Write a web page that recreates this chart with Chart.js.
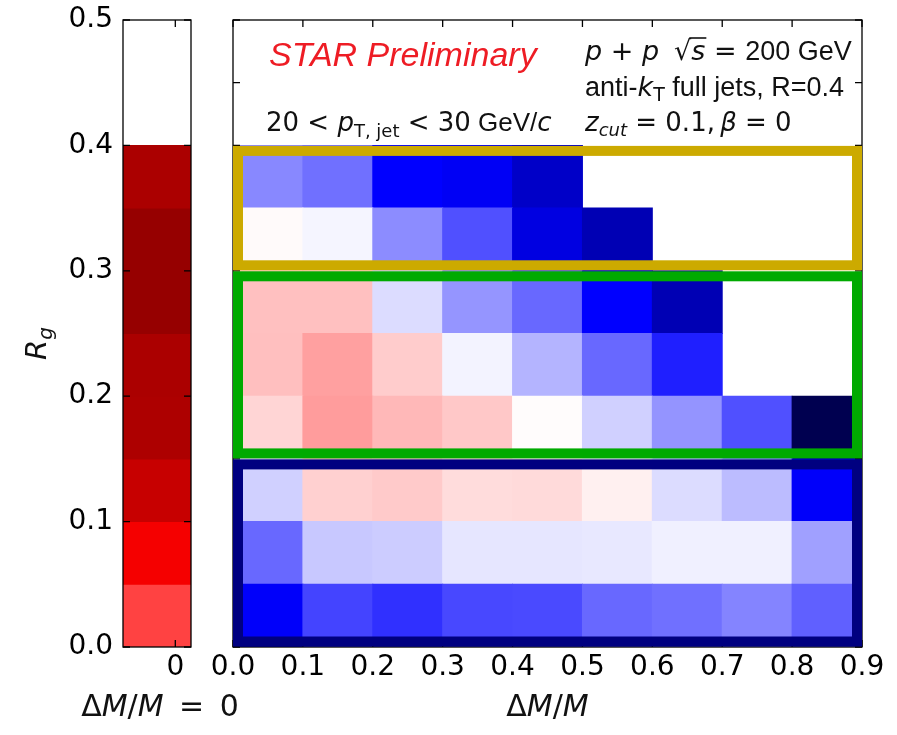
<!DOCTYPE html>
<html><head><meta charset="utf-8">
<script src="https://cdn.jsdelivr.net/npm/chart.js@4.4.1/dist/chart.umd.min.js"></script>
<style>
html,body{margin:0;padding:0;background:#fff;}
#wrap{position:relative;width:897px;height:735px;overflow:hidden;background:#fff;}
#c1{position:absolute;left:0;top:0;}
#c2{position:absolute;left:200px;top:0;}
</style></head><body>
<div id="wrap"><canvas id="c1" width="260" height="735"></canvas><canvas id="c2" width="697" height="735"></canvas></div>
<script>
// ---------------- data ----------------
// ΔM/M bin edges (x axis tick labels of the right panel)
const dmEdges = [0.0, 0.1, 0.2, 0.3, 0.4, 0.5, 0.6, 0.7, 0.8, 0.9];
// R_g bin edges
const rgEdges = [0.00, 0.05, 0.10, 0.15, 0.20, 0.25, 0.30, 0.35, 0.40];
// colour-scale value (seismic map, -1 .. 1, 0 = white) for the ΔM/M = 0 column, from R_g = 0 upward
const zeroColumn = [0.37, 0.54, 0.72, 0.82, 0.83, 0.91, 0.91, 0.83];
// right panel rows, one per R_g bin (null = empty bin)
const rowRg000_005 = [-0.514, -0.367, -0.406, -0.359, -0.355, -0.296, -0.280, -0.241, -0.312];
const rowRg005_010 = [-0.296, -0.108, -0.100, -0.049, -0.049, -0.045, -0.029, -0.029, -0.186];
const rowRg010_015 = [-0.092, 0.092, 0.104, 0.069, 0.073, 0.029, -0.069, -0.131, -0.514];
const rowRg015_020 = [0.082, 0.194, 0.139, 0.108, 0.006, -0.092, -0.210, -0.343, -0.990];
const rowRg020_025 = [0.125, 0.186, 0.100, -0.024, -0.147, -0.296, -0.440, null, null];
const rowRg025_030 = [0.124, 0.124, -0.069, -0.208, -0.296, -0.500, -0.710, null, null];
const rowRg030_035 = [0.010, -0.020, -0.225, -0.343, -0.584, -0.710, null, null, null];
const rowRg035_040 = [-0.233, -0.280, -0.500, -0.528, -0.654, null, null, null, null];
const rows = [rowRg000_005, rowRg005_010, rowRg010_015, rowRg015_020, rowRg020_025, rowRg025_030, rowRg030_035, rowRg035_040];
// R_g groups that are framed
const frameRanges = [[0.30, 0.40], [0.15, 0.30], [0.00, 0.15]];
const frameColors = ['#ccaa00', '#00aa00', '#000080'];
// x range of the single-bin ΔM/M = 0 panel
const zeroPanelRange = [-0.1, 0.03];

// ---------------- colour map (matplotlib "seismic") ----------------
const seismicStops = [[0, [0, 0, 76.5]], [0.25, [0, 0, 255]], [0.5, [255, 255, 255]], [0.75, [255, 0, 0]], [1, [127.5, 0, 0]]];
function seismic(z) {
  const t = Math.min(1, Math.max(0, (z + 1) / 2));
  for (let i = 0; i < seismicStops.length - 1; i++) {
    const [t0, c0] = seismicStops[i], [t1, c1] = seismicStops[i + 1];
    if (t <= t1) {
      const f = (t - t0) / (t1 - t0);
      const c = c0.map((v, k) => Math.round(v + (c1[k] - v) * f));
      return `rgb(${c[0]},${c[1]},${c[2]})`;
    }
  }
  return 'rgb(127,0,0)';
}

// ---------------- helpers ----------------
const MATH = '"DejaVu Sans", sans-serif';
const SANS = '"Liberation Sans", Arial, sans-serif';
const m = s => `${s}px ${MATH}`;
const mi = s => `oblique ${s}px ${MATH}`;
const sn = s => `${s}px ${SANS}`;
const TXT = '#111';

function drawRuns(ctx, x, y, runs, align) {
  let w = 0;
  runs.forEach(r => { ctx.font = r.f; r.w = ctx.measureText(r.t).width; w += r.w; });
  let cx = align === 'center' ? x - w / 2 : x;
  ctx.textBaseline = 'alphabetic';
  ctx.textAlign = 'left';
  runs.forEach(r => {
    ctx.font = r.f; ctx.fillStyle = r.c || TXT;
    ctx.fillText(r.t, cx, y + (r.dy || 0));
    if (r.over) {
      ctx.save(); ctx.strokeStyle = r.c || TXT; ctx.lineWidth = 1.6;
      ctx.beginPath(); ctx.moveTo(cx - 2, y - r.over); ctx.lineTo(cx + r.w + 1, y - r.over); ctx.stroke(); ctx.restore();
    }
    cx += r.w;
  });
}

function drawBoxAndTicks(chart, len) {
  const {ctx, chartArea: a, scales: {x, y}} = chart;
  ctx.save();
  ctx.strokeStyle = '#000'; ctx.lineWidth = 1.3;
  ctx.strokeRect(a.left, a.top, a.right - a.left, a.bottom - a.top);
  ctx.beginPath();
  x.ticks.forEach(t => {
    const px = x.getPixelForValue(t.value);
    ctx.moveTo(px, a.top); ctx.lineTo(px, a.top + len);
    ctx.moveTo(px, a.bottom); ctx.lineTo(px, a.bottom - len);
  });
  y.ticks.forEach(t => {
    const py = y.getPixelForValue(t.value);
    ctx.moveTo(a.left, py); ctx.lineTo(a.left + len, py);
    ctx.moveTo(a.right, py); ctx.lineTo(a.right - len, py);
  });
  ctx.stroke();
  ctx.restore();
}

Chart.defaults.animation = false;
Chart.defaults.events = [];
Chart.defaults.plugins.legend.display = false;
Chart.defaults.plugins.tooltip.enabled = false;

const barCommon = {
  grouped: false, barPercentage: 1, categoryPercentage: 1, borderWidth: 0, inflateAmount: 0.5,
  backgroundColor: c => (c.raw ? seismic(c.raw.v) : 'rgba(0,0,0,0)')
};
const fitY = w => s => { s.width = w; s.paddingTop = 0; s.paddingBottom = 0; };
const fitX = h => s => { s.height = h; s.paddingLeft = 0; s.paddingRight = 0; };

// ---------------- left panel: ΔM/M = 0 ----------------
const zeroCenter = (zeroPanelRange[0] + zeroPanelRange[1]) / 2;
const leftData = zeroColumn.map((v, i) => ({x: zeroCenter, y: [rgEdges[i], rgEdges[i + 1]], v}));

new Chart(document.getElementById('c1'), {
  type: 'bar',
  data: {datasets: [Object.assign({data: leftData}, barCommon)]},
  options: {
    responsive: false, devicePixelRatio: 1,
    layout: {padding: {left: 0, right: 69, top: 20, bottom: 40}},
    scales: {
      x: {
        type: 'linear', min: zeroPanelRange[0], max: zeroPanelRange[1], offset: false,
        grid: {display: false, drawTicks: false}, border: {display: false},
        afterBuildTicks: s => { s.ticks = [{value: 0}]; },
        ticks: {font: {family: MATH, size: 28}, color: '#000', padding: 4, maxRotation: 0, callback: () => '0'},
        afterFit: fitX(48)
      },
      y: {
        type: 'linear', min: 0, max: 0.5,
        grid: {display: false, drawTicks: false}, border: {display: false},
        ticks: {stepSize: 0.1, font: {family: MATH, size: 28}, color: '#000', padding: 10, callback: v => v.toFixed(1)},
        afterFit: fitY(123)
      }
    }
  },
  plugins: [{
    id: 'leftDecor',
    afterDatasetsDraw(chart) {
      drawBoxAndTicks(chart, 7);
      const {ctx, chartArea: a} = chart;
      // x title
      drawRuns(ctx, (a.left + a.right) / 2 + 3, 716, [
        {t: 'Δ', f: m(30)}, {t: 'M', f: mi(30)}, {t: '/', f: m(30)}, {t: 'M', f: mi(30)}, {t: ' \u2009=\u2009 0', f: m(30)}
      ], 'center');
      // y title R_g
      ctx.save();
      ctx.translate(46, (a.top + a.bottom) / 2 + 10);
      ctx.rotate(-Math.PI / 2);
      drawRuns(ctx, 0, 0, [{t: 'R', f: mi(29)}, {t: 'g', f: mi(20), dy: 6}], 'center');
      ctx.restore();
    }
  }]
});

// ---------------- right panel ----------------
const dmCenters = dmEdges.slice(0, -1).map((e, i) => (e + dmEdges[i + 1]) / 2);
const rightDatasets = rows.map((row, r) => Object.assign({
  data: row.map((v, i) => (v === null ? null : {x: dmCenters[i], y: [rgEdges[r], rgEdges[r + 1]], v})).filter(Boolean)
}, barCommon));

new Chart(document.getElementById('c2'), {
  type: 'bar',
  data: {datasets: rightDatasets},
  options: {
    responsive: false, devicePixelRatio: 1,
    layout: {padding: {left: 33, right: 35, top: 20, bottom: 40}},
    scales: {
      x: {
        type: 'linear', min: dmEdges[0], max: dmEdges[dmEdges.length - 1], offset: false,
        grid: {display: false, drawTicks: false}, border: {display: false},
        ticks: {stepSize: 0.1, autoSkip: false, maxRotation: 0, font: {family: MATH, size: 28}, color: '#000', padding: 4,
                callback: v => v.toFixed(1)},
        afterFit: fitX(48)
      },
      y: {
        type: 'linear', min: 0, max: 0.5,
        grid: {display: false, drawTicks: false}, border: {display: false},
        ticks: {stepSize: 0.05, display: false},
        afterFit: fitY(0)
      }
    }
  },
  plugins: [{
    id: 'rightDecor',
    afterDatasetsDraw(chart) {
      drawBoxAndTicks(chart, 7);
      const {ctx, chartArea: a, scales: {x, y}} = chart;
      // coloured frames around R_g groups
      const L = x.getPixelForValue(x.min), R = x.getPixelForValue(x.max);
      frameRanges.forEach(([lo, hi], k) => {
        const top = y.getPixelForValue(hi) + 0.5, bot = y.getPixelForValue(lo) - 0.5;
        ctx.save();
        ctx.lineWidth = 10; ctx.strokeStyle = frameColors[k];
        ctx.strokeRect(L + 5, top + 5, R - L - 10, bot - top - 10);
        ctx.restore();
      });
      // annotations (positions given relative to the panel's top-left corner)
      const px = dx => a.left + dx, py = dy => a.top + dy;
      drawRuns(ctx, px(36), py(46), [{t: 'STAR Preliminary', f: `italic 34px ${SANS}`, c: '#ee1c24'}]);
      drawRuns(ctx, px(352), py(40), [
        {t: 'p', f: mi(27)}, {t: ' + ', f: m(27)}, {t: 'p', f: mi(27)}, {t: '  ', f: sn(27)},
        {t: '√', f: m(27)}, {t: 's', f: mi(27), over: 22}, {t: ' = ', f: m(27)}, {t: '200 GeV', f: sn(27)}
      ]);
      drawRuns(ctx, px(352), py(76), [
        {t: 'anti-', f: sn(27)}, {t: 'k', f: mi(27)}, {t: 'T', f: m(19), dy: 5}, {t: ' full jets, R=0.4', f: sn(27)}
      ]);
      drawRuns(ctx, px(352), py(111), [
        {t: 'z', f: mi(26)}, {t: 'cut', f: mi(18), dy: 5}, {t: ' = 0.1,\u2009', f: m(26)}, {t: 'β', f: mi(26)}, {t: ' = 0', f: m(26)}
      ]);
      drawRuns(ctx, px(33), py(111), [
        {t: '20 < ', f: m(26)}, {t: 'p', f: mi(26)}, {t: 'T, jet', f: m(18), dy: 6}, {t: ' < 30', f: m(26)},
        {t: ' GeV/', f: sn(26)}, {t: 'c', f: mi(26)}
      ]);
      // x title
      drawRuns(ctx, (a.left + a.right) / 2, 716, [
        {t: 'Δ', f: m(30)}, {t: 'M', f: mi(30)}, {t: '/', f: m(30)}, {t: 'M', f: mi(30)}
      ], 'center');
    }
  }]
});
</script>
</body></html>
